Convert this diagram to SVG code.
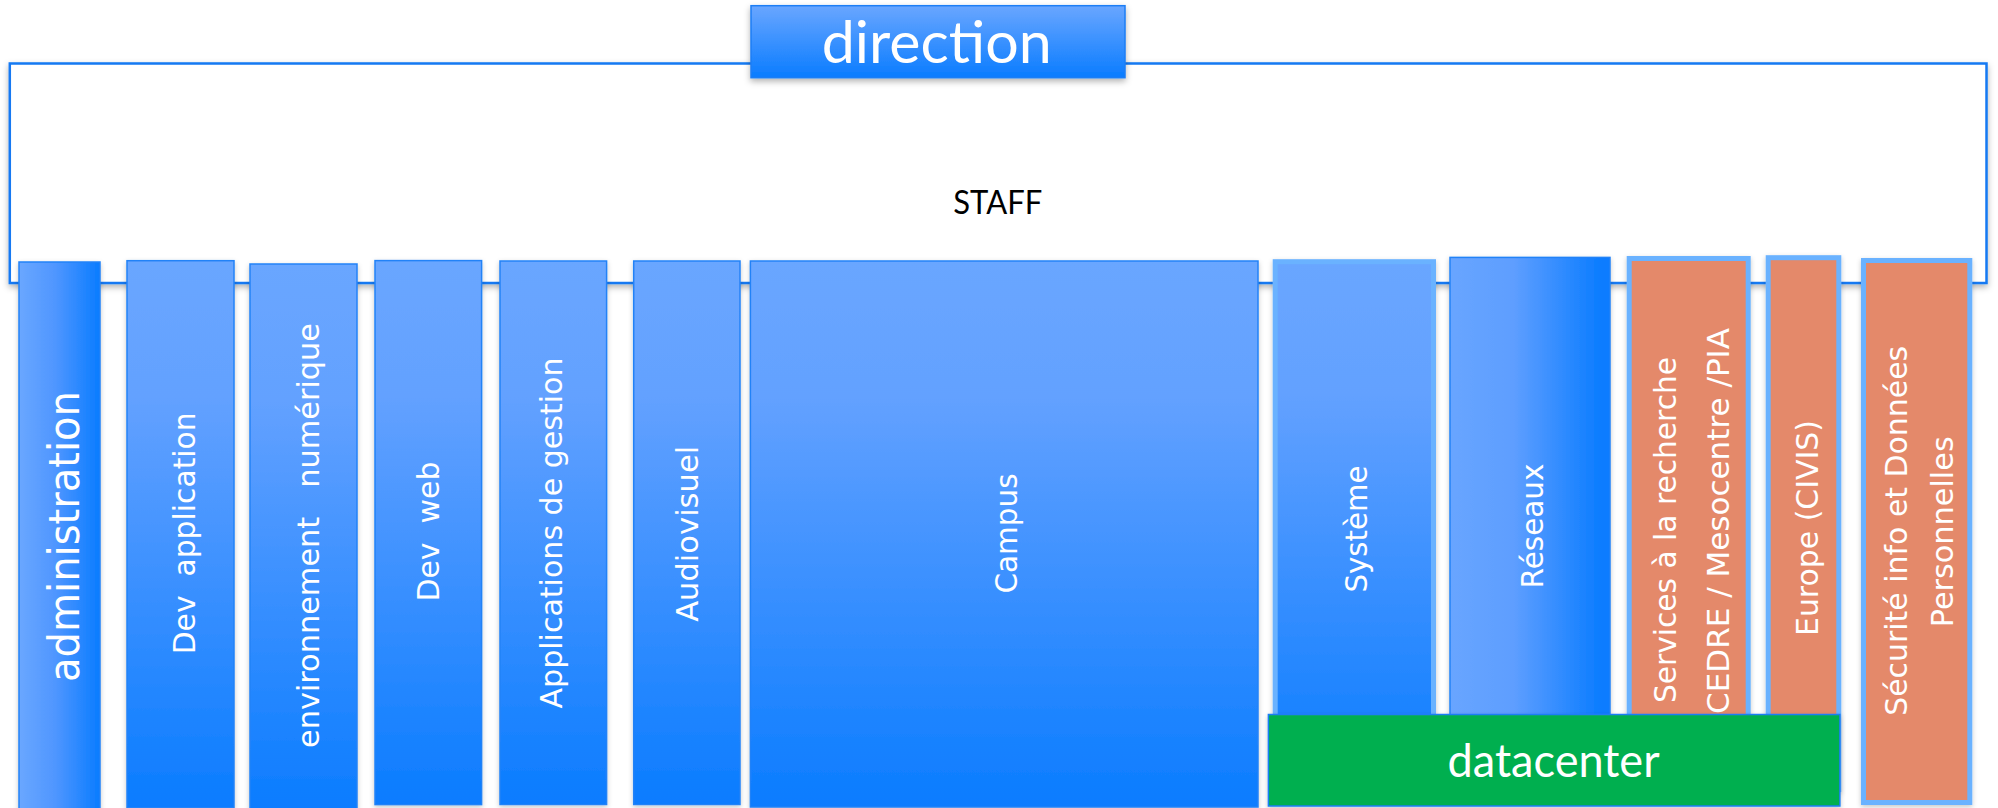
<svg xmlns="http://www.w3.org/2000/svg" width="1998" height="808" viewBox="0 0 1998 808">
<defs>
  <linearGradient id="gv" x1="0" y1="0" x2="0" y2="1">
    <stop offset="0" stop-color="#69A6FF"/>
    <stop offset="0.25" stop-color="#63A1FF"/>
    <stop offset="1" stop-color="#0A7CFF"/>
  </linearGradient>
  <linearGradient id="gdir" x1="0" y1="0" x2="0" y2="1">
    <stop offset="0" stop-color="#69A6FF"/>
    <stop offset="1" stop-color="#0A7CFF"/>
  </linearGradient>
  <linearGradient id="gadm" x1="0" y1="0" x2="1" y2="0">
    <stop offset="0" stop-color="#6AA7FF"/>
    <stop offset="0.45" stop-color="#4F96FF"/>
    <stop offset="1" stop-color="#0A7CFF"/>
  </linearGradient>
  <linearGradient id="gres" x1="0" y1="0" x2="1" y2="0">
    <stop offset="0" stop-color="#68A5FF"/>
    <stop offset="0.4" stop-color="#5E9EFF"/>
    <stop offset="0.95" stop-color="#0A7CFF"/>
    <stop offset="1" stop-color="#0A7CFF"/>
  </linearGradient>
  <filter id="sh" x="-20%" y="-20%" width="140%" height="140%">
    <feDropShadow dx="0" dy="3" stdDeviation="3" flood-color="#000" flood-opacity="0.3"/>
  </filter>
  <filter id="shs" x="-10%" y="-5%" width="120%" height="110%">
    <feDropShadow dx="0" dy="2" stdDeviation="2.5" flood-color="#000" flood-opacity="0.22"/>
  </filter>
  <style>
    .staff{fill:#fff;stroke:#1479F2;stroke-width:2.5}
    .col{stroke:#2382F7;stroke-width:1.5;filter:url(#shs)}
    .blue{fill:url(#gv)}
    .lb{stroke:#6AB2FF;stroke-width:5}
    .org{fill:#E4896A}
    .green{fill:#00AF50;stroke:#1E7EF5;stroke-width:1.5;filter:url(#shs)}
    .vt{font-family:"DejaVu Sans","Open Sans",sans-serif;font-size:31px;fill:#fff;text-anchor:middle;white-space:pre}
    .big{font-size:42px}
    .vs{text-anchor:start}
    .cal{font-family:Lato,"Liberation Sans",sans-serif;text-anchor:middle}
  </style>
</defs>

<g id="staff">
  <rect class="staff" x="9.8" y="63.5" width="1976.7" height="219.5" filter="url(#sh)"/>
  <text class="cal" x="997.7" y="214.3" font-size="32" fill="#000" textLength="89" lengthAdjust="spacingAndGlyphs">STAFF</text>
</g>

<g id="direction">
  <rect x="751" y="5.7" width="374" height="72" fill="url(#gdir)" stroke="#1E7EF5" stroke-width="1.5" filter="url(#sh)"/>
  <text class="cal" x="936.7" y="63.3" font-size="58" fill="#fff" textLength="230" lengthAdjust="spacingAndGlyphs">direction</text>
</g>

<g id="administration">
  <rect class="col" x="19" y="262" width="81" height="550" fill="url(#gadm)"/>
  <text class="vt big" transform="translate(79,536.5) rotate(-90)" textLength="291" lengthAdjust="spacingAndGlyphs">administration</text>
</g>

<g id="dev-application">
  <rect class="col blue" x="127" y="260.7" width="107" height="547"/>
  <text class="vt" transform="translate(194.5,533.3) rotate(-90)" textLength="242" lengthAdjust="spacingAndGlyphs" xml:space="preserve">Dev  application</text>
</g>

<g id="environnement-numerique">
  <rect class="col blue" x="250" y="264" width="107" height="548"/>
  <text class="vt" transform="translate(319,535.5) rotate(-90)" textLength="425" lengthAdjust="spacingAndGlyphs" xml:space="preserve">environnement   numérique</text>
</g>

<g id="dev-web">
  <rect class="col blue" x="375" y="260.6" width="106.6" height="544"/>
  <text class="vt" transform="translate(439,531.6) rotate(-90)" textLength="140" lengthAdjust="spacingAndGlyphs" xml:space="preserve">Dev  web</text>
</g>

<g id="applications-de-gestion">
  <rect class="col blue" x="500" y="261" width="106.6" height="543.5"/>
  <text class="vt" transform="translate(562,533) rotate(-90)" textLength="351" lengthAdjust="spacingAndGlyphs">Applications de gestion</text>
</g>

<g id="audiovisuel">
  <rect class="col blue" x="633.7" y="261" width="106.3" height="543.5"/>
  <text class="vt" transform="translate(698,533.8) rotate(-90)" textLength="176" lengthAdjust="spacingAndGlyphs">Audiovisuel</text>
</g>

<g id="campus">
  <rect class="col blue" x="750.4" y="261" width="507.6" height="546"/>
  <text class="vt" transform="translate(1016.7,533.5) rotate(-90)" textLength="120" lengthAdjust="spacingAndGlyphs">Campus</text>
</g>

<g id="systeme">
  <rect class="col blue lb" x="1275.2" y="261.7" width="158.3" height="528"/>
  <text class="vt" transform="translate(1366.7,529) rotate(-90)" textLength="127" lengthAdjust="spacingAndGlyphs">Système</text>
</g>

<g id="reseaux">
  <rect class="col" x="1450" y="257.4" width="160" height="532" fill="url(#gres)"/>
  <text class="vt" transform="translate(1543.3,526) rotate(-90)" textLength="125" lengthAdjust="spacingAndGlyphs">Réseaux</text>
</g>

<g id="services-recherche">
  <rect class="col org lb" x="1629.2" y="258.5" width="119" height="531"/>
  <text class="vt vs" transform="translate(1676,703) rotate(-90)" textLength="346" lengthAdjust="spacingAndGlyphs">Services à la recherche</text>
  <text class="vt vs" transform="translate(1729,714) rotate(-90)" textLength="386" lengthAdjust="spacingAndGlyphs">CEDRE / Mesocentre /PIA</text>
</g>

<g id="europe-civis">
  <rect class="col org lb" x="1768.2" y="257.7" width="70.6" height="532"/>
  <text class="vt" transform="translate(1818,528) rotate(-90)" textLength="216" lengthAdjust="spacingAndGlyphs">Europe (CIVIS)</text>
</g>

<g id="securite">
  <rect class="col org lb" x="1863.5" y="260.5" width="106.3" height="542"/>
  <text class="vt" transform="translate(1907,530.8) rotate(-90)" textLength="370" lengthAdjust="spacingAndGlyphs">Sécurité info et Données</text>
  <text class="vt" transform="translate(1953.3,531.8) rotate(-90)" textLength="191" lengthAdjust="spacingAndGlyphs">Personnelles</text>
</g>

<g id="datacenter">
  <rect class="green" x="1268.4" y="714.5" width="571.5" height="91.5"/>
  <text class="cal" x="1553.6" y="777.3" font-size="46" fill="#fff" textLength="212" lengthAdjust="spacingAndGlyphs">datacenter</text>
</g>

<g id="connectors"></g>
</svg>
